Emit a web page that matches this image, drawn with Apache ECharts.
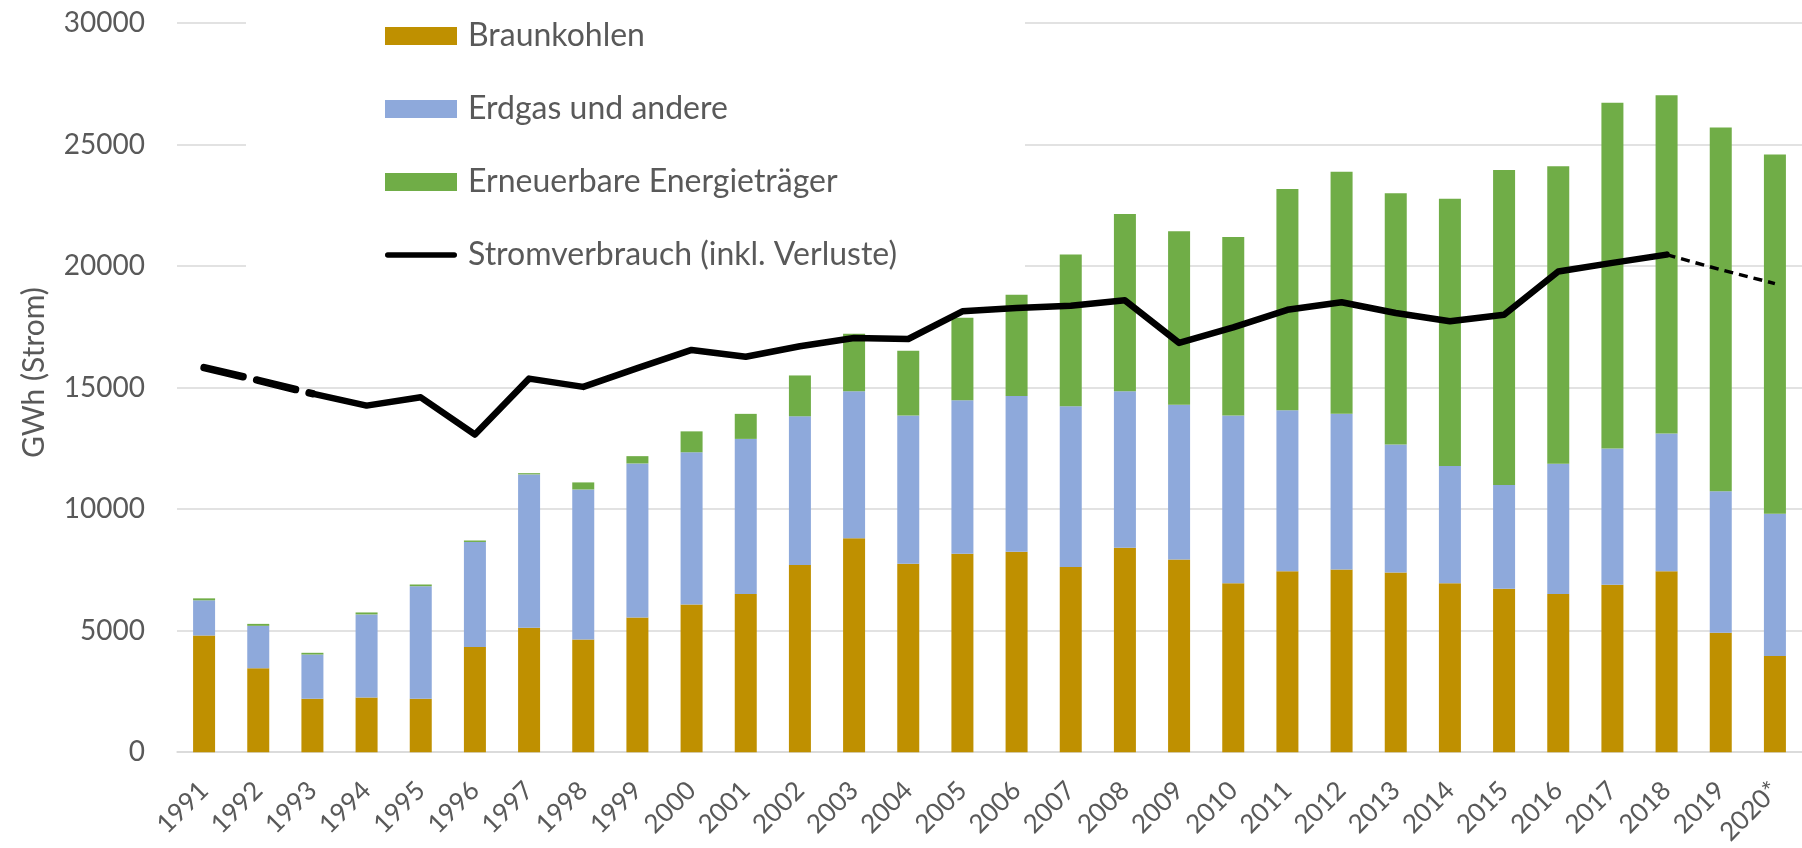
<!DOCTYPE html>
<html>
<head>
<meta charset="utf-8">
<script src="https://cdn.jsdelivr.net/npm/echarts@6/dist/echarts.min.js"></script>
<style>
  html, body { margin: 0; padding: 0; background: #fff; }
  #chart { width: 1802px; height: 848px; }
</style>
</head>
<body>
<div id="chart"></div>
<script>
const years = ['1991','1992','1993','1994','1995','1996','1997','1998','1999','2000',
  '2001','2002','2003','2004','2005','2006','2007','2008','2009','2010',
  '2011','2012','2013','2014','2015','2016','2017','2018','2019','2020*'];

const braunkohlen = [4800,3450,2200,2250,2200,4330,5120,4640,5540,6080,
  6510,7700,8800,7750,8170,8250,7620,8410,7930,6950,
  7450,7520,7390,6950,6730,6510,6890,7450,4920,3960];

const erdgas = [1450,1750,1820,3420,4630,4320,6310,6170,6340,6260,
  6380,6120,6050,6100,6310,6400,6610,6440,6370,6900,
  6620,6400,5270,4820,4260,5360,5600,5660,5820,5850];

const erneuerbare = [80,80,70,80,70,60,50,290,300,860,
  1030,1680,2370,2670,3390,4170,6250,7290,7130,7350,
  9100,9960,10340,11000,12960,12240,14230,13920,14960,14780];

const stromverbrauch = [15820,15300,14750,14260,14600,13070,15370,15030,15800,16550,
  16270,16700,17040,17000,18140,18280,18370,18590,16840,17480,
  18200,18510,18070,17730,18000,19780,20130,20470,19850,19280];

const yTicks = { min: 0, max: 30000, interval: 5000 };

// split the consumption line into its three drawn styles
const firstSolid = 2;   // 1993
const lastSolid = 27;   // 2018
const lineEarly = stromverbrauch.map((v, i) => i <= firstSolid ? v : null);
const lineSolid = stromverbrauch.map((v, i) => (i >= firstSolid && i <= lastSolid) ? v : null);
const lineLate  = stromverbrauch.map((v, i) => i >= lastSolid ? v : null);

const FONT = 'Lato, "Open Sans", sans-serif';
const GREY = '#595959';

const chart = echarts.init(document.getElementById('chart'), null, { renderer: 'canvas' });
chart.setOption({
  animation: false,
  backgroundColor: '#ffffff',
  textStyle: { fontFamily: FONT },
  grid: { left: 177, right: -5, top: 23, bottom: 94, containLabel: false },
  legend: {
    orient: 'vertical',
    left: 246,
    top: 0,
    padding: [20, 128, 22, 139],
    backgroundColor: '#ffffff',
    itemWidth: 72,
    itemHeight: 18,
    itemGap: 41,
    selectedMode: false,
    textStyle: { color: GREY, fontSize: 32, fontFamily: FONT, lineHeight: 30, padding: [0, 0, 0, 6] },
    data: [
      { name: 'Braunkohlen', icon: 'rect' },
      { name: 'Erdgas und andere', icon: 'rect' },
      { name: 'Erneuerbare Energieträger', icon: 'rect' },
      { name: 'Stromverbrauch (inkl. Verluste)', icon: 'path://M3,0 H75 A3,3 0 0 1 75,6 H3 A3,3 0 0 1 3,0 Z' }
    ]
  },
  xAxis: {
    type: 'category',
    data: years,
    boundaryGap: true,
    axisLine: { show: true, lineStyle: { color: '#d9d9d9', width: 1.5 } },
    axisTick: { show: false },
    axisLabel: { color: GREY, fontSize: 26, fontFamily: FONT, rotate: 45, margin: 34, interval: 0 }
  },
  yAxis: {
    type: 'value',
    min: yTicks.min,
    max: yTicks.max,
    interval: yTicks.interval,
    name: 'GWh (Strom)',
    nameLocation: 'middle',
    nameGap: 128,
    nameRotate: 90,
    nameTextStyle: { color: GREY, fontSize: 30, fontFamily: FONT, padding: [0, 0, 0, 30] },
    axisLine: { show: false },
    axisTick: { show: false },
    splitLine: { show: true, lineStyle: { color: '#d9d9d9', width: 1.5 } },
    axisLabel: { color: GREY, fontSize: 28, fontFamily: FONT, margin: 32, formatter: v => String(v) }
  },
  series: [
    { name: 'Braunkohlen', type: 'bar', stack: 'total', barWidth: 22, data: braunkohlen,
      itemStyle: { color: '#BF9000' } },
    { name: 'Erdgas und andere', type: 'bar', stack: 'total', barWidth: 22, data: erdgas,
      itemStyle: { color: '#8EA9DB' } },
    { name: 'Erneuerbare Energieträger', type: 'bar', stack: 'total', barWidth: 22, data: erneuerbare,
      itemStyle: { color: '#70AD47' } },
    { name: 'Stromverbrauch (inkl. Verluste)', type: 'line', data: lineSolid, symbol: 'none',
      connectNulls: false, z: 5,
      itemStyle: { color: '#000' },
      lineStyle: { color: '#000', width: 6.5, cap: 'round', join: 'round' } },
    { name: 'Stromverbrauch früh', type: 'line', data: lineEarly, symbol: 'none', z: 5,
      itemStyle: { color: '#000' },
      lineStyle: { color: '#000', width: 7.5, type: [40, 14], cap: 'round', join: 'round' } },
    { name: 'Stromverbrauch Prognose', type: 'line', data: lineLate, symbol: 'none', z: 5,
      itemStyle: { color: '#000' },
      lineStyle: { color: '#000', width: 3.5, type: [9, 6], cap: 'butt', join: 'round' } }
  ]
});
</script>
</body>
</html>
